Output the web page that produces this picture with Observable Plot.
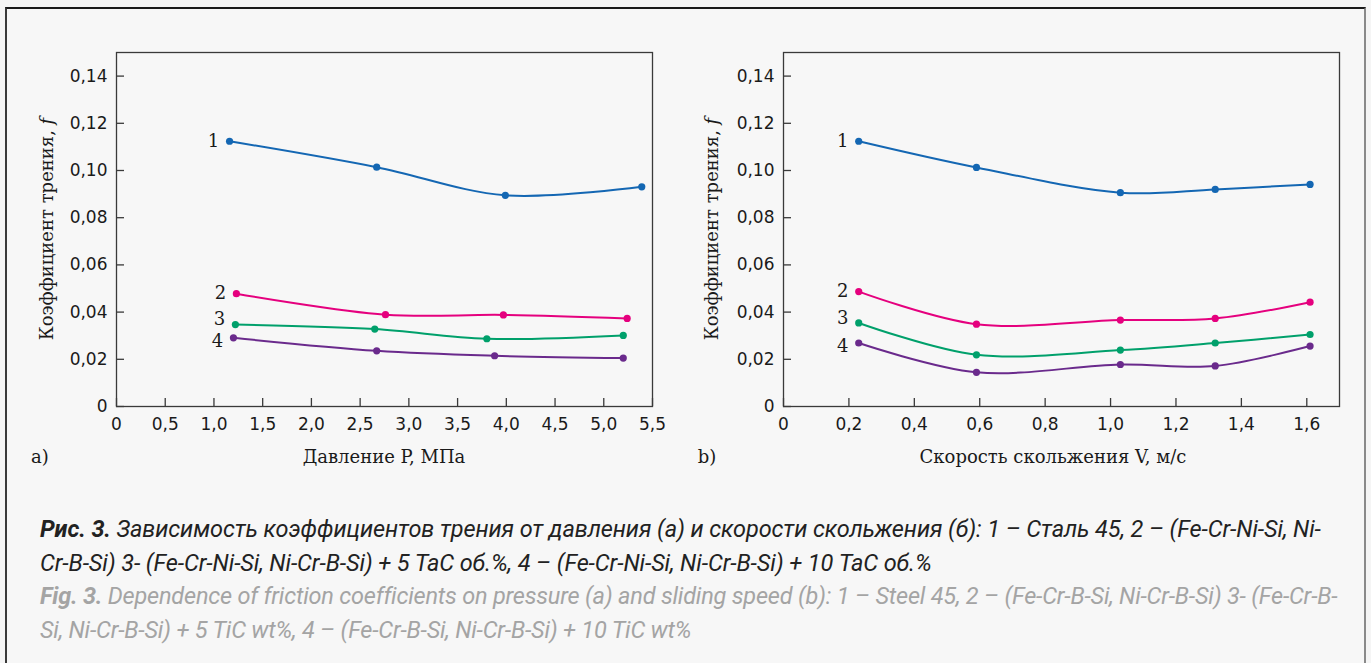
<!DOCTYPE html>
<html>
<head>
<meta charset="utf-8">
<script src="https://cdn.jsdelivr.net/npm/d3@7"></script>
<script src="https://cdn.jsdelivr.net/npm/@observablehq/plot@0.6"></script>
<style>
  html, body { margin: 0; padding: 0; background: #f5f5f5; }
  #wrap { position: relative; width: 1371px; height: 663px; overflow: hidden; background: #f5f5f5; }
  #box { position: absolute; left: 5px; top: 7px; width: 1357px; height: 720px;
         background: #f7f7f7; border-top: 2px solid #1a1a1a; border-left: 2px solid #3a3a3a; border-right: 2px solid #8a8a8a; }
  .plot { position: absolute; top: 0; }
  #caption { position: absolute; left: 40px; top: 513px; font-family: Roboto, "Noto Sans", sans-serif;
             font-style: italic; font-size: 23.5px; line-height: 33.5px; white-space: nowrap; letter-spacing: -0.1px; }
  #caption .ru { color: #222; }
  #caption .en { color: #a4a4a4; letter-spacing: -0.2px; }
  #caption b { font-weight: 700; }
</style>
</head>
<body>
<div id="wrap">
  <div id="box"></div>
  <div id="left" class="plot" style="left:0px"></div>
  <div id="right" class="plot" style="left:685px"></div>
  <div id="caption">
    <div class="ru"><b>Рис. 3.</b> Зависимость коэффициентов трения от давления (а) и скорости скольжения (б): 1 – Сталь 45, 2 – (Fe-Cr-Ni-Si, Ni-</div>
    <div class="ru">Cr-B-Si) 3- (Fe-Cr-Ni-Si, Ni-Cr-B-Si) + 5 TaC об.%, 4 – (Fe-Cr-Ni-Si, Ni-Cr-B-Si) + 10 TaC об.%</div>
    <div class="en"><b>Fig. 3.</b> Dependence of friction coefficients on pressure (a) and sliding speed (b): 1 – Steel 45, 2 – (Fe-Cr-B-Si, Ni-Cr-B-Si) 3- (Fe-Cr-B-</div>
    <div class="en">Si, Ni-Cr-B-Si) + 5 TiC wt%, 4 – (Fe-Cr-B-Si, Ni-Cr-B-Si) + 10 TiC wt%</div>
  </div>
</div>
<script>
// ---------- data ----------
const seriesNames = ["1", "2", "3", "4"];

// (a) friction coefficient vs pressure P, MPa
const pX1 = [1.16, 2.67, 3.99, 5.39];
const pY1 = [0.1124, 0.1014, 0.0895, 0.0931];
const pX2 = [1.23, 2.76, 3.97, 5.24];
const pY2 = [0.0478, 0.0389, 0.0388, 0.0373];
const pX3 = [1.22, 2.65, 3.80, 5.20];
const pY3 = [0.0347, 0.0328, 0.0287, 0.0301];
const pX4 = [1.20, 2.67, 3.88, 5.20];
const pY4 = [0.0291, 0.0236, 0.0215, 0.0205];

// (b) friction coefficient vs sliding speed V, m/s
const vX = [0.23, 0.59, 1.03, 1.32, 1.61];
const vY1 = [0.1124, 0.1013, 0.0906, 0.0920, 0.0941];
const vY2 = [0.0487, 0.0349, 0.0366, 0.0373, 0.0442];
const vY3 = [0.0354, 0.0219, 0.0239, 0.0269, 0.0305];
const vY4 = [0.0269, 0.0145, 0.0178, 0.0172, 0.0256];

// tick labels
const yTicks = [0, 0.02, 0.04, 0.06, 0.08, 0.10, 0.12, 0.14];
const pTicks = [0, 0.5, 1.0, 1.5, 2.0, 2.5, 3.0, 3.5, 4.0, 4.5, 5.0, 5.5];
const vTicks = [0, 0.2, 0.4, 0.6, 0.8, 1.0, 1.2, 1.4, 1.6];

const yLabel = "Коэффициент трения, ";
const yLabelItalic = "f";
const pLabel = "Давление P, МПа";
const vLabel = "Скорость скольжения V, м/с";

// ---------- styles ----------
const colors = ["#1467b3", "#e5007e", "#00a06b", "#6a2a8c"];
const labelDy = [0, 0, -5, 3];

function rows(xs, ys, name) { return xs.map((x, i) => ({x, y: ys[i], s: name})); }
const pData = [
  ...rows(pX1, pY1, "1"), ...rows(pX2, pY2, "2"), ...rows(pX3, pY3, "3"), ...rows(pX4, pY4, "4")
];
const vData = [
  ...rows(vX, vY1, "1"), ...rows(vX, vY2, "2"), ...rows(vX, vY3, "3"), ...rows(vX, vY4, "4")
];

const fmtY = d => d === 0 ? "0" : d.toFixed(2).replace(".", ",");
const fmtX = d => d === 0 ? "0" : d.toFixed(1).replace(".", ",");

function panel({data, xDomain, xTicks, width, marginLeft, marginRight, xLabel, tag, tagX, xLabelX, yLabelX}) {
  const height = 480, marginTop = 52, marginBottom = 74;
  const innerW = width - marginLeft - marginRight;
  const innerH = height - marginTop - marginBottom;
  const labelMarks = seriesNames.map((n, i) =>
    Plot.text(data.filter(d => d.s === n).slice(0, 1), {
      x: "x", y: "y", text: "s", dx: -16, dy: labelDy[i], fill: "#1a1a1a",
      fontFamily: "DejaVu Serif, serif", fontSize: 18, textAnchor: "middle"
    }));
  const chart = Plot.plot({
    width, height, marginLeft, marginRight, marginTop, marginBottom,
    style: {background: "transparent", fontFamily: "DejaVu Sans, sans-serif", fontSize: "17px", color: "#1a1a1a", overflow: "visible"},
    x: {domain: xDomain},
    y: {domain: [0, 0.15]},
    color: {domain: seriesNames, range: colors},
    marks: [
      Plot.frame({stroke: "#3a3a3a", strokeWidth: 1.3}),
      Plot.tickY(yTicks, {y: d => d, insetRight: innerW - 8, stroke: "#3a3a3a", strokeWidth: 1.3}),
      Plot.tickX(xTicks, {x: d => d, insetTop: innerH - 8, stroke: "#3a3a3a", strokeWidth: 1.3}),
      Plot.axisY(yTicks, {tickSize: 0, tickPadding: 9, tickFormat: fmtY, label: null, fontSize: 17}),
      Plot.axisX(xTicks, {tickSize: 0, tickPadding: 11, tickFormat: fmtX, label: null, fontSize: 17}),
      Plot.line(data, {x: "x", y: "y", z: "s", stroke: "s", strokeWidth: 2, curve: "catmull-rom"}),
      Plot.dot(data, {x: "x", y: "y", fill: "s", r: 3.6}),
      ...labelMarks
    ]
  });
  const svg = d3.select(chart);
  // y-axis title
  const yt = svg.append("text")
    .attr("transform", `translate(${yLabelX},${marginTop + innerH / 2}) rotate(-90)`)
    .attr("text-anchor", "middle").attr("dominant-baseline", "middle")
    .attr("font-family", "DejaVu Serif, serif").attr("font-size", 18).attr("fill", "#1a1a1a");
  yt.append("tspan").text(yLabel);
  yt.append("tspan").attr("font-style", "italic").text(yLabelItalic);
  // x-axis title
  svg.append("text").attr("x", xLabelX).attr("y", 458)
    .attr("text-anchor", "middle").attr("dominant-baseline", "middle")
    .attr("font-family", "DejaVu Serif, serif").attr("font-size", 18).attr("fill", "#1a1a1a")
    .text(xLabel);
  // panel tag
  svg.append("text").attr("x", tagX).attr("y", 458)
    .attr("dominant-baseline", "middle")
    .attr("font-family", "DejaVu Serif, serif").attr("font-size", 18).attr("fill", "#1a1a1a")
    .text(tag);
  return chart;
}

document.getElementById("left").appendChild(panel({
  data: pData, xDomain: [0, 5.5], xTicks: pTicks, width: 685, marginLeft: 116, marginRight: 33,
  xLabel: pLabel, tag: "a)", tagX: 40, xLabelX: 384, yLabelX: 48
}));
document.getElementById("right").appendChild(panel({
  data: vData, xDomain: [0, 1.7], xTicks: vTicks, width: 686, marginLeft: 98, marginRight: 32,
  xLabel: vLabel, tag: "b)", tagX: 22, xLabelX: 368, yLabelX: 28
}));
</script>
</body>
</html>
